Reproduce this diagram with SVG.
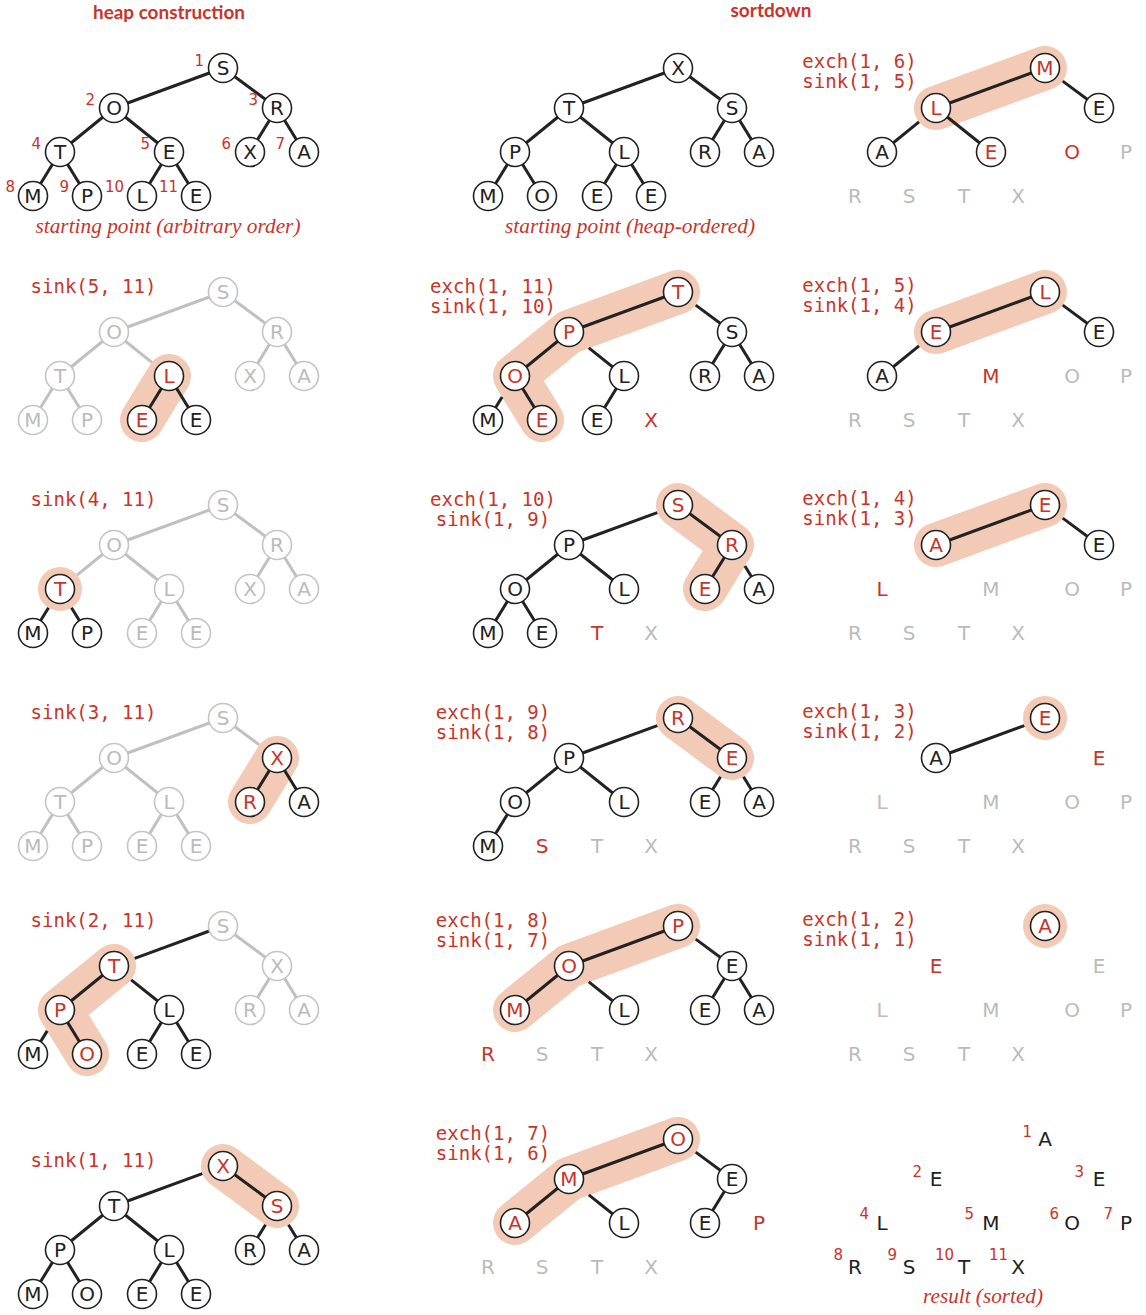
<svg xmlns="http://www.w3.org/2000/svg" width="1146" height="1315" viewBox="0 0 1146 1315">
<style>
.bg{fill:#fff}
.e{stroke:#222;stroke-width:3;fill:none}
.eg{stroke:#c0c0c0;stroke-width:3;fill:none}
.hl{stroke:#f2cab6;stroke-width:44;stroke-linecap:round;stroke-linejoin:round;fill:none}
.hc{fill:#f2cab6}
.nd circle{fill:#fff;stroke:#222;stroke-width:1.6}
.nd.g circle{stroke:#c4c4c4}
.nd text,.lt{font-family:"DejaVu Sans",sans-serif;font-size:20px;text-anchor:middle;fill:#222}
.nd.g text,.lt.g{fill:#bbb}
.nd text.r,.lt.r{fill:#c9342a}
.idx{font-family:"DejaVu Sans",sans-serif;font-size:15px;text-anchor:end;fill:#c9342a}
.lbl{font-family:"DejaVu Sans Mono","Liberation Mono",monospace;font-size:19px;text-anchor:middle;fill:#c9342a}
.cap{font-family:"Liberation Serif",serif;font-style:italic;font-size:20px;text-anchor:middle;fill:#c9342a}
.ttl{font-family:"Lato","DejaVu Sans",sans-serif;font-weight:bold;font-size:18px;text-anchor:middle;fill:#c9342a}
</style>
<rect class="bg" x="0" y="0" width="1146" height="1315"/>
<text class="ttl" x="169" y="19" textLength="152" lengthAdjust="spacingAndGlyphs">heap construction</text>
<text class="ttl" x="771" y="17" textLength="81" lengthAdjust="spacingAndGlyphs">sortdown</text>

<!-- ===== Column 1, row 1 ===== -->
<g id="p11">
<g id="p11-connectors">
<line class="e" x1="223" y1="68" x2="114" y2="108"/><line class="e" x1="223" y1="68" x2="277" y2="108"/>
<line class="e" x1="114" y1="108" x2="60" y2="152"/><line class="e" x1="114" y1="108" x2="169" y2="152"/>
<line class="e" x1="277" y1="108" x2="250" y2="152"/><line class="e" x1="277" y1="108" x2="304" y2="152"/>
<line class="e" x1="60" y1="152" x2="33" y2="196"/><line class="e" x1="60" y1="152" x2="87" y2="196"/>
<line class="e" x1="169" y1="152" x2="142" y2="196"/><line class="e" x1="169" y1="152" x2="196" y2="196"/>
</g>
<g id="p11-n1" class="nd"><circle cx="223" cy="68" r="14.5"/><text x="223" y="75">S</text></g>
<g id="p11-n2" class="nd"><circle cx="114" cy="108" r="14.5"/><text x="114" y="115">O</text></g>
<g id="p11-n3" class="nd"><circle cx="277" cy="108" r="14.5"/><text x="277" y="115">R</text></g>
<g id="p11-n4" class="nd"><circle cx="60" cy="152" r="14.5"/><text x="60" y="159">T</text></g>
<g id="p11-n5" class="nd"><circle cx="169" cy="152" r="14.5"/><text x="169" y="159">E</text></g>
<g id="p11-n6" class="nd"><circle cx="250" cy="152" r="14.5"/><text x="250" y="159">X</text></g>
<g id="p11-n7" class="nd"><circle cx="304" cy="152" r="14.5"/><text x="304" y="159">A</text></g>
<g id="p11-n8" class="nd"><circle cx="33" cy="196" r="14.5"/><text x="33" y="203">M</text></g>
<g id="p11-n9" class="nd"><circle cx="87" cy="196" r="14.5"/><text x="87" y="203">P</text></g>
<g id="p11-n10" class="nd"><circle cx="142" cy="196" r="14.5"/><text x="142" y="203">L</text></g>
<g id="p11-n11" class="nd"><circle cx="196" cy="196" r="14.5"/><text x="196" y="203">E</text></g>
<text class="idx" x="204" y="66">1</text><text class="idx" x="95" y="105">2</text><text class="idx" x="258" y="105">3</text>
<text class="idx" x="41" y="149">4</text><text class="idx" x="150" y="149">5</text><text class="idx" x="231" y="149">6</text><text class="idx" x="285" y="149">7</text>
<text class="idx" x="15" y="192">8</text><text class="idx" x="69" y="192">9</text><text class="idx" x="124" y="192">10</text><text class="idx" x="178" y="192">11</text>
<text class="cap" x="168" y="233" textLength="265" lengthAdjust="spacingAndGlyphs">starting point (arbitrary order)</text>
</g>

<!-- ===== Column 1, row 2: sink(5, 11) ===== -->
<g id="p12" transform="translate(0,224)">
<text class="lbl" x="93.5" y="69">sink(5, 11)</text>
<line class="hl" x1="169" y1="152" x2="142" y2="196"/>
<g id="p12-connectors">
<line class="eg" x1="223" y1="68" x2="114" y2="108"/><line class="eg" x1="223" y1="68" x2="277" y2="108"/>
<line class="eg" x1="114" y1="108" x2="60" y2="152"/><line class="eg" x1="114" y1="108" x2="151.8" y2="138.3"/>
<line class="eg" x1="277" y1="108" x2="250" y2="152"/><line class="eg" x1="277" y1="108" x2="304" y2="152"/>
<line class="eg" x1="60" y1="152" x2="33" y2="196"/><line class="eg" x1="60" y1="152" x2="87" y2="196"/>
<line class="e" x1="169" y1="152" x2="142" y2="196"/><line class="e" x1="169" y1="152" x2="196" y2="196"/>
</g>
<g id="p12-n1" class="nd g"><circle cx="223" cy="68" r="14.5"/><text x="223" y="75">S</text></g>
<g id="p12-n2" class="nd g"><circle cx="114" cy="108" r="14.5"/><text x="114" y="115">O</text></g>
<g id="p12-n3" class="nd g"><circle cx="277" cy="108" r="14.5"/><text x="277" y="115">R</text></g>
<g id="p12-n4" class="nd g"><circle cx="60" cy="152" r="14.5"/><text x="60" y="159">T</text></g>
<g id="p12-n5" class="nd"><circle cx="169" cy="152" r="14.5"/><text class="r" x="169" y="159">L</text></g>
<g id="p12-n6" class="nd g"><circle cx="250" cy="152" r="14.5"/><text x="250" y="159">X</text></g>
<g id="p12-n7" class="nd g"><circle cx="304" cy="152" r="14.5"/><text x="304" y="159">A</text></g>
<g id="p12-n8" class="nd g"><circle cx="33" cy="196" r="14.5"/><text x="33" y="203">M</text></g>
<g id="p12-n9" class="nd g"><circle cx="87" cy="196" r="14.5"/><text x="87" y="203">P</text></g>
<g id="p12-n10" class="nd"><circle cx="142" cy="196" r="14.5"/><text class="r" x="142" y="203">E</text></g>
<g id="p12-n11" class="nd"><circle cx="196" cy="196" r="14.5"/><text x="196" y="203">E</text></g>
</g>

<!-- ===== Column 1, row 3: sink(4, 11) ===== -->
<g id="p13" transform="translate(0,437)">
<text class="lbl" x="93.5" y="69">sink(4, 11)</text>
<circle class="hc" cx="60" cy="152" r="22"/>
<g id="p13-connectors">
<line class="eg" x1="223" y1="68" x2="114" y2="108"/><line class="eg" x1="223" y1="68" x2="277" y2="108"/>
<line class="eg" x1="114" y1="108" x2="77" y2="138.1"/><line class="eg" x1="114" y1="108" x2="169" y2="152"/>
<line class="eg" x1="277" y1="108" x2="250" y2="152"/><line class="eg" x1="277" y1="108" x2="304" y2="152"/>
<line class="e" x1="48.5" y1="170.7" x2="33" y2="196"/><line class="e" x1="71.5" y1="170.7" x2="87" y2="196"/>
<line class="eg" x1="169" y1="152" x2="142" y2="196"/><line class="eg" x1="169" y1="152" x2="196" y2="196"/>
</g>
<g id="p13-n1" class="nd g"><circle cx="223" cy="68" r="14.5"/><text x="223" y="75">S</text></g>
<g id="p13-n2" class="nd g"><circle cx="114" cy="108" r="14.5"/><text x="114" y="115">O</text></g>
<g id="p13-n3" class="nd g"><circle cx="277" cy="108" r="14.5"/><text x="277" y="115">R</text></g>
<g id="p13-n4" class="nd"><circle cx="60" cy="152" r="14.5"/><text class="r" x="60" y="159">T</text></g>
<g id="p13-n5" class="nd g"><circle cx="169" cy="152" r="14.5"/><text x="169" y="159">L</text></g>
<g id="p13-n6" class="nd g"><circle cx="250" cy="152" r="14.5"/><text x="250" y="159">X</text></g>
<g id="p13-n7" class="nd g"><circle cx="304" cy="152" r="14.5"/><text x="304" y="159">A</text></g>
<g id="p13-n8" class="nd"><circle cx="33" cy="196" r="14.5"/><text x="33" y="203">M</text></g>
<g id="p13-n9" class="nd"><circle cx="87" cy="196" r="14.5"/><text x="87" y="203">P</text></g>
<g id="p13-n10" class="nd g"><circle cx="142" cy="196" r="14.5"/><text x="142" y="203">E</text></g>
<g id="p13-n11" class="nd g"><circle cx="196" cy="196" r="14.5"/><text x="196" y="203">E</text></g>
</g>

<!-- ===== Column 1, row 4: sink(3, 11) ===== -->
<g id="p14" transform="translate(0,650)">
<text class="lbl" x="93.5" y="69">sink(3, 11)</text>
<line class="hl" x1="277" y1="108" x2="250" y2="152"/>
<g id="p14-connectors">
<line class="eg" x1="223" y1="68" x2="114" y2="108"/><line class="eg" x1="223" y1="68" x2="259.3" y2="94.9"/>
<line class="eg" x1="114" y1="108" x2="60" y2="152"/><line class="eg" x1="114" y1="108" x2="169" y2="152"/>
<line class="e" x1="277" y1="108" x2="250" y2="152"/><line class="e" x1="277" y1="108" x2="304" y2="152"/>
<line class="eg" x1="60" y1="152" x2="33" y2="196"/><line class="eg" x1="60" y1="152" x2="87" y2="196"/>
<line class="eg" x1="169" y1="152" x2="142" y2="196"/><line class="eg" x1="169" y1="152" x2="196" y2="196"/>
</g>
<g id="p14-n1" class="nd g"><circle cx="223" cy="68" r="14.5"/><text x="223" y="75">S</text></g>
<g id="p14-n2" class="nd g"><circle cx="114" cy="108" r="14.5"/><text x="114" y="115">O</text></g>
<g id="p14-n3" class="nd"><circle cx="277" cy="108" r="14.5"/><text class="r" x="277" y="115">X</text></g>
<g id="p14-n4" class="nd g"><circle cx="60" cy="152" r="14.5"/><text x="60" y="159">T</text></g>
<g id="p14-n5" class="nd g"><circle cx="169" cy="152" r="14.5"/><text x="169" y="159">L</text></g>
<g id="p14-n6" class="nd"><circle cx="250" cy="152" r="14.5"/><text class="r" x="250" y="159">R</text></g>
<g id="p14-n7" class="nd"><circle cx="304" cy="152" r="14.5"/><text x="304" y="159">A</text></g>
<g id="p14-n8" class="nd g"><circle cx="33" cy="196" r="14.5"/><text x="33" y="203">M</text></g>
<g id="p14-n9" class="nd g"><circle cx="87" cy="196" r="14.5"/><text x="87" y="203">P</text></g>
<g id="p14-n10" class="nd g"><circle cx="142" cy="196" r="14.5"/><text x="142" y="203">E</text></g>
<g id="p14-n11" class="nd g"><circle cx="196" cy="196" r="14.5"/><text x="196" y="203">E</text></g>
</g>

<!-- ===== Column 1, row 5: sink(2, 11) ===== -->
<g id="p15" transform="translate(0,858)">
<text class="lbl" x="93.5" y="69">sink(2, 11)</text>
<polyline class="hl" points="114,108 60,152 87,196"/>
<g id="p15-connectors">
<line class="e" x1="223" y1="68" x2="134.7" y2="100.4"/><line class="eg" x1="223" y1="68" x2="277" y2="108"/>
<line class="e" x1="114" y1="108" x2="60" y2="152"/><line class="e" x1="131.2" y1="121.8" x2="169" y2="152"/>
<line class="eg" x1="277" y1="108" x2="250" y2="152"/><line class="eg" x1="277" y1="108" x2="304" y2="152"/>
<line class="e" x1="47.2" y1="172.9" x2="33" y2="196"/><line class="e" x1="60" y1="152" x2="87" y2="196"/>
<line class="e" x1="169" y1="152" x2="142" y2="196"/><line class="e" x1="169" y1="152" x2="196" y2="196"/>
</g>
<g id="p15-n1" class="nd g"><circle cx="223" cy="68" r="14.5"/><text x="223" y="75">S</text></g>
<g id="p15-n2" class="nd"><circle cx="114" cy="108" r="14.5"/><text class="r" x="114" y="115">T</text></g>
<g id="p15-n3" class="nd g"><circle cx="277" cy="108" r="14.5"/><text x="277" y="115">X</text></g>
<g id="p15-n4" class="nd"><circle cx="60" cy="152" r="14.5"/><text class="r" x="60" y="159">P</text></g>
<g id="p15-n5" class="nd"><circle cx="169" cy="152" r="14.5"/><text x="169" y="159">L</text></g>
<g id="p15-n6" class="nd g"><circle cx="250" cy="152" r="14.5"/><text x="250" y="159">R</text></g>
<g id="p15-n7" class="nd g"><circle cx="304" cy="152" r="14.5"/><text x="304" y="159">A</text></g>
<g id="p15-n8" class="nd"><circle cx="33" cy="196" r="14.5"/><text x="33" y="203">M</text></g>
<g id="p15-n9" class="nd"><circle cx="87" cy="196" r="14.5"/><text class="r" x="87" y="203">O</text></g>
<g id="p15-n10" class="nd"><circle cx="142" cy="196" r="14.5"/><text x="142" y="203">E</text></g>
<g id="p15-n11" class="nd"><circle cx="196" cy="196" r="14.5"/><text x="196" y="203">E</text></g>
</g>

<!-- ===== Column 1, row 6: sink(1, 11) ===== -->
<g id="p16" transform="translate(0,1098)">
<text class="lbl" x="93.5" y="69">sink(1, 11)</text>
<line class="hl" x1="223" y1="68" x2="277" y2="108"/>
<g id="p16-connectors">
<line class="e" x1="202.3" y1="75.6" x2="114" y2="108"/><line class="e" x1="223" y1="68" x2="277" y2="108"/>
<line class="e" x1="114" y1="108" x2="60" y2="152"/><line class="e" x1="114" y1="108" x2="169" y2="152"/>
<line class="e" x1="265.5" y1="126.7" x2="250" y2="152"/><line class="e" x1="288.5" y1="126.7" x2="304" y2="152"/>
<line class="e" x1="60" y1="152" x2="33" y2="196"/><line class="e" x1="60" y1="152" x2="87" y2="196"/>
<line class="e" x1="169" y1="152" x2="142" y2="196"/><line class="e" x1="169" y1="152" x2="196" y2="196"/>
</g>
<g id="p16-n1" class="nd"><circle cx="223" cy="68" r="14.5"/><text class="r" x="223" y="75">X</text></g>
<g id="p16-n2" class="nd"><circle cx="114" cy="108" r="14.5"/><text x="114" y="115">T</text></g>
<g id="p16-n3" class="nd"><circle cx="277" cy="108" r="14.5"/><text class="r" x="277" y="115">S</text></g>
<g id="p16-n4" class="nd"><circle cx="60" cy="152" r="14.5"/><text x="60" y="159">P</text></g>
<g id="p16-n5" class="nd"><circle cx="169" cy="152" r="14.5"/><text x="169" y="159">L</text></g>
<g id="p16-n6" class="nd"><circle cx="250" cy="152" r="14.5"/><text x="250" y="159">R</text></g>
<g id="p16-n7" class="nd"><circle cx="304" cy="152" r="14.5"/><text x="304" y="159">A</text></g>
<g id="p16-n8" class="nd"><circle cx="33" cy="196" r="14.5"/><text x="33" y="203">M</text></g>
<g id="p16-n9" class="nd"><circle cx="87" cy="196" r="14.5"/><text x="87" y="203">O</text></g>
<g id="p16-n10" class="nd"><circle cx="142" cy="196" r="14.5"/><text x="142" y="203">E</text></g>
<g id="p16-n11" class="nd"><circle cx="196" cy="196" r="14.5"/><text x="196" y="203">E</text></g>
</g>

<!-- ===== Column 2, row 1 ===== -->
<g id="p21" transform="translate(455,0)">
<g id="p21-connectors">
<line class="e" x1="223" y1="68" x2="114" y2="108"/><line class="e" x1="223" y1="68" x2="277" y2="108"/>
<line class="e" x1="114" y1="108" x2="60" y2="152"/><line class="e" x1="114" y1="108" x2="169" y2="152"/>
<line class="e" x1="277" y1="108" x2="250" y2="152"/><line class="e" x1="277" y1="108" x2="304" y2="152"/>
<line class="e" x1="60" y1="152" x2="33" y2="196"/><line class="e" x1="60" y1="152" x2="87" y2="196"/>
<line class="e" x1="169" y1="152" x2="142" y2="196"/><line class="e" x1="169" y1="152" x2="196" y2="196"/>
</g>
<g id="p21-n1" class="nd"><circle cx="223" cy="68" r="14.5"/><text x="223" y="75">X</text></g>
<g id="p21-n2" class="nd"><circle cx="114" cy="108" r="14.5"/><text x="114" y="115">T</text></g>
<g id="p21-n3" class="nd"><circle cx="277" cy="108" r="14.5"/><text x="277" y="115">S</text></g>
<g id="p21-n4" class="nd"><circle cx="60" cy="152" r="14.5"/><text x="60" y="159">P</text></g>
<g id="p21-n5" class="nd"><circle cx="169" cy="152" r="14.5"/><text x="169" y="159">L</text></g>
<g id="p21-n6" class="nd"><circle cx="250" cy="152" r="14.5"/><text x="250" y="159">R</text></g>
<g id="p21-n7" class="nd"><circle cx="304" cy="152" r="14.5"/><text x="304" y="159">A</text></g>
<g id="p21-n8" class="nd"><circle cx="33" cy="196" r="14.5"/><text x="33" y="203">M</text></g>
<g id="p21-n9" class="nd"><circle cx="87" cy="196" r="14.5"/><text x="87" y="203">O</text></g>
<g id="p21-n10" class="nd"><circle cx="142" cy="196" r="14.5"/><text x="142" y="203">E</text></g>
<g id="p21-n11" class="nd"><circle cx="196" cy="196" r="14.5"/><text x="196" y="203">E</text></g>
<text class="cap" x="175" y="233" textLength="250" lengthAdjust="spacingAndGlyphs">starting point (heap-ordered)</text>
</g>

<!-- ===== Column 2, row 2 ===== -->
<g id="p22" transform="translate(455,224)">
<text class="lbl" x="38" y="69">exch(1, 11)</text>
<text class="lbl" x="38" y="89">sink(1, 10)</text>
<polyline class="hl" points="223,68 114,108 60,152 87,196"/>
<g id="p22-connectors">
<line class="e" x1="223" y1="68" x2="114" y2="108"/><line class="e" x1="240.7" y1="81.1" x2="277" y2="108"/>
<line class="e" x1="114" y1="108" x2="60" y2="152"/><line class="e" x1="133.8" y1="123.9" x2="169" y2="152"/>
<line class="e" x1="277" y1="108" x2="250" y2="152"/><line class="e" x1="277" y1="108" x2="304" y2="152"/>
<line class="e" x1="47.1" y1="173" x2="33" y2="196"/><line class="e" x1="60" y1="152" x2="87" y2="196"/>
<line class="e" x1="169" y1="152" x2="142" y2="196"/>
</g>
<g id="p22-n1" class="nd"><circle cx="223" cy="68" r="14.5"/><text class="r" x="223" y="75">T</text></g>
<g id="p22-n2" class="nd"><circle cx="114" cy="108" r="14.5"/><text class="r" x="114" y="115">P</text></g>
<g id="p22-n3" class="nd"><circle cx="277" cy="108" r="14.5"/><text x="277" y="115">S</text></g>
<g id="p22-n4" class="nd"><circle cx="60" cy="152" r="14.5"/><text class="r" x="60" y="159">O</text></g>
<g id="p22-n5" class="nd"><circle cx="169" cy="152" r="14.5"/><text x="169" y="159">L</text></g>
<g id="p22-n6" class="nd"><circle cx="250" cy="152" r="14.5"/><text x="250" y="159">R</text></g>
<g id="p22-n7" class="nd"><circle cx="304" cy="152" r="14.5"/><text x="304" y="159">A</text></g>
<g id="p22-n8" class="nd"><circle cx="33" cy="196" r="14.5"/><text x="33" y="203">M</text></g>
<g id="p22-n9" class="nd"><circle cx="87" cy="196" r="14.5"/><text class="r" x="87" y="203">E</text></g>
<g id="p22-n10" class="nd"><circle cx="142" cy="196" r="14.5"/><text x="142" y="203">E</text></g>
<text class="lt r" x="196" y="203">X</text>
</g>

<!-- ===== Column 2, row 3 ===== -->
<g id="p23" transform="translate(455,437)">
<text class="lbl" x="38" y="69">exch(1, 10)</text>
<text class="lbl" x="38" y="89">sink(1, 9)</text>
<polyline class="hl" points="223,68 277,108 250,152"/>
<g id="p23-connectors">
<line class="e" x1="202.3" y1="75.6" x2="114" y2="108"/><line class="e" x1="223" y1="68" x2="277" y2="108"/>
<line class="e" x1="114" y1="108" x2="60" y2="152"/><line class="e" x1="114" y1="108" x2="169" y2="152"/>
<line class="e" x1="277" y1="108" x2="250" y2="152"/><line class="e" x1="289.9" y1="129" x2="304" y2="152"/>
<line class="e" x1="60" y1="152" x2="33" y2="196"/><line class="e" x1="60" y1="152" x2="87" y2="196"/>
</g>
<g id="p23-n1" class="nd"><circle cx="223" cy="68" r="14.5"/><text class="r" x="223" y="75">S</text></g>
<g id="p23-n2" class="nd"><circle cx="114" cy="108" r="14.5"/><text x="114" y="115">P</text></g>
<g id="p23-n3" class="nd"><circle cx="277" cy="108" r="14.5"/><text class="r" x="277" y="115">R</text></g>
<g id="p23-n4" class="nd"><circle cx="60" cy="152" r="14.5"/><text x="60" y="159">O</text></g>
<g id="p23-n5" class="nd"><circle cx="169" cy="152" r="14.5"/><text x="169" y="159">L</text></g>
<g id="p23-n6" class="nd"><circle cx="250" cy="152" r="14.5"/><text class="r" x="250" y="159">E</text></g>
<g id="p23-n7" class="nd"><circle cx="304" cy="152" r="14.5"/><text x="304" y="159">A</text></g>
<g id="p23-n8" class="nd"><circle cx="33" cy="196" r="14.5"/><text x="33" y="203">M</text></g>
<g id="p23-n9" class="nd"><circle cx="87" cy="196" r="14.5"/><text x="87" y="203">E</text></g>
<text class="lt r" x="142" y="203">T</text>
<text class="lt g" x="196" y="203">X</text>
</g>

<!-- ===== Column 2, row 4 ===== -->
<g id="p24" transform="translate(455,650)">
<text class="lbl" x="38" y="69">exch(1, 9)</text>
<text class="lbl" x="38" y="89">sink(1, 8)</text>
<line class="hl" x1="223" y1="68" x2="277" y2="108"/>
<g id="p24-connectors">
<line class="e" x1="202.3" y1="75.6" x2="114" y2="108"/><line class="e" x1="223" y1="68" x2="277" y2="108"/>
<line class="e" x1="114" y1="108" x2="60" y2="152"/><line class="e" x1="114" y1="108" x2="169" y2="152"/>
<line class="e" x1="265.5" y1="126.7" x2="250" y2="152"/><line class="e" x1="288.5" y1="126.7" x2="304" y2="152"/>
<line class="e" x1="60" y1="152" x2="33" y2="196"/>
</g>
<g id="p24-n1" class="nd"><circle cx="223" cy="68" r="14.5"/><text class="r" x="223" y="75">R</text></g>
<g id="p24-n2" class="nd"><circle cx="114" cy="108" r="14.5"/><text x="114" y="115">P</text></g>
<g id="p24-n3" class="nd"><circle cx="277" cy="108" r="14.5"/><text class="r" x="277" y="115">E</text></g>
<g id="p24-n4" class="nd"><circle cx="60" cy="152" r="14.5"/><text x="60" y="159">O</text></g>
<g id="p24-n5" class="nd"><circle cx="169" cy="152" r="14.5"/><text x="169" y="159">L</text></g>
<g id="p24-n6" class="nd"><circle cx="250" cy="152" r="14.5"/><text x="250" y="159">E</text></g>
<g id="p24-n7" class="nd"><circle cx="304" cy="152" r="14.5"/><text x="304" y="159">A</text></g>
<g id="p24-n8" class="nd"><circle cx="33" cy="196" r="14.5"/><text x="33" y="203">M</text></g>
<text class="lt r" x="87" y="203">S</text>
<text class="lt g" x="142" y="203">T</text>
<text class="lt g" x="196" y="203">X</text>
</g>

<!-- ===== Column 2, row 5 ===== -->
<g id="p25" transform="translate(455,858)">
<text class="lbl" x="38" y="69">exch(1, 8)</text>
<text class="lbl" x="38" y="89">sink(1, 7)</text>
<polyline class="hl" points="223,68 114,108 60,152"/>
<g id="p25-connectors">
<line class="e" x1="223" y1="68" x2="114" y2="108"/><line class="e" x1="240.7" y1="81.1" x2="277" y2="108"/>
<line class="e" x1="114" y1="108" x2="60" y2="152"/><line class="e" x1="133.8" y1="123.9" x2="169" y2="152"/>
<line class="e" x1="277" y1="108" x2="250" y2="152"/><line class="e" x1="277" y1="108" x2="304" y2="152"/>
</g>
<g id="p25-n1" class="nd"><circle cx="223" cy="68" r="14.5"/><text class="r" x="223" y="75">P</text></g>
<g id="p25-n2" class="nd"><circle cx="114" cy="108" r="14.5"/><text class="r" x="114" y="115">O</text></g>
<g id="p25-n3" class="nd"><circle cx="277" cy="108" r="14.5"/><text x="277" y="115">E</text></g>
<g id="p25-n4" class="nd"><circle cx="60" cy="152" r="14.5"/><text class="r" x="60" y="159">M</text></g>
<g id="p25-n5" class="nd"><circle cx="169" cy="152" r="14.5"/><text x="169" y="159">L</text></g>
<g id="p25-n6" class="nd"><circle cx="250" cy="152" r="14.5"/><text x="250" y="159">E</text></g>
<g id="p25-n7" class="nd"><circle cx="304" cy="152" r="14.5"/><text x="304" y="159">A</text></g>
<text class="lt r" x="33" y="203">R</text>
<text class="lt g" x="87" y="203">S</text>
<text class="lt g" x="142" y="203">T</text>
<text class="lt g" x="196" y="203">X</text>
</g>

<!-- ===== Column 2, row 6 ===== -->
<g id="p26" transform="translate(455,1071)">
<text class="lbl" x="38" y="69">exch(1, 7)</text>
<text class="lbl" x="38" y="89">sink(1, 6)</text>
<polyline class="hl" points="223,68 114,108 60,152"/>
<g id="p26-connectors">
<line class="e" x1="223" y1="68" x2="114" y2="108"/><line class="e" x1="240.7" y1="81.1" x2="277" y2="108"/>
<line class="e" x1="114" y1="108" x2="60" y2="152"/><line class="e" x1="133.8" y1="123.9" x2="169" y2="152"/>
<line class="e" x1="277" y1="108" x2="250" y2="152"/>
</g>
<g id="p26-n1" class="nd"><circle cx="223" cy="68" r="14.5"/><text class="r" x="223" y="75">O</text></g>
<g id="p26-n2" class="nd"><circle cx="114" cy="108" r="14.5"/><text class="r" x="114" y="115">M</text></g>
<g id="p26-n3" class="nd"><circle cx="277" cy="108" r="14.5"/><text x="277" y="115">E</text></g>
<g id="p26-n4" class="nd"><circle cx="60" cy="152" r="14.5"/><text class="r" x="60" y="159">A</text></g>
<g id="p26-n5" class="nd"><circle cx="169" cy="152" r="14.5"/><text x="169" y="159">L</text></g>
<g id="p26-n6" class="nd"><circle cx="250" cy="152" r="14.5"/><text x="250" y="159">E</text></g>
<text class="lt r" x="304" y="159">P</text>
<text class="lt g" x="33" y="203">R</text>
<text class="lt g" x="87" y="203">S</text>
<text class="lt g" x="142" y="203">T</text>
<text class="lt g" x="196" y="203">X</text>
</g>

<!-- ===== Column 3, row 1 ===== -->
<g id="p31" transform="translate(822,0)">
<text class="lbl" x="37.5" y="68">exch(1, 6)</text>
<text class="lbl" x="37.5" y="88">sink(1, 5)</text>
<line class="hl" x1="223" y1="68" x2="114" y2="108"/>
<g id="p31-connectors">
<line class="e" x1="223" y1="68" x2="114" y2="108"/><line class="e" x1="240.7" y1="81.1" x2="277" y2="108"/>
<line class="e" x1="97" y1="121.9" x2="60" y2="152"/><line class="e" x1="114" y1="108" x2="169" y2="152"/>
</g>
<g id="p31-n1" class="nd"><circle cx="223" cy="68" r="14.5"/><text class="r" x="223" y="75">M</text></g>
<g id="p31-n2" class="nd"><circle cx="114" cy="108" r="14.5"/><text class="r" x="114" y="115">L</text></g>
<g id="p31-n3" class="nd"><circle cx="277" cy="108" r="14.5"/><text x="277" y="115">E</text></g>
<g id="p31-n4" class="nd"><circle cx="60" cy="152" r="14.5"/><text x="60" y="159">A</text></g>
<g id="p31-n5" class="nd"><circle cx="169" cy="152" r="14.5"/><text class="r" x="169" y="159">E</text></g>
<text class="lt r" x="250" y="159">O</text>
<text class="lt g" x="304" y="159">P</text>
<text class="lt g" x="33" y="203">R</text>
<text class="lt g" x="87" y="203">S</text>
<text class="lt g" x="142" y="203">T</text>
<text class="lt g" x="196" y="203">X</text>
</g>

<!-- ===== Column 3, row 2 ===== -->
<g id="p32" transform="translate(822,224)">
<text class="lbl" x="37.5" y="68">exch(1, 5)</text>
<text class="lbl" x="37.5" y="88">sink(1, 4)</text>
<line class="hl" x1="223" y1="68" x2="114" y2="108"/>
<g id="p32-connectors">
<line class="e" x1="223" y1="68" x2="114" y2="108"/><line class="e" x1="240.7" y1="81.1" x2="277" y2="108"/>
<line class="e" x1="97" y1="121.9" x2="60" y2="152"/>
</g>
<g id="p32-n1" class="nd"><circle cx="223" cy="68" r="14.5"/><text class="r" x="223" y="75">L</text></g>
<g id="p32-n2" class="nd"><circle cx="114" cy="108" r="14.5"/><text class="r" x="114" y="115">E</text></g>
<g id="p32-n3" class="nd"><circle cx="277" cy="108" r="14.5"/><text x="277" y="115">E</text></g>
<g id="p32-n4" class="nd"><circle cx="60" cy="152" r="14.5"/><text x="60" y="159">A</text></g>
<text class="lt r" x="169" y="159">M</text>
<text class="lt g" x="250" y="159">O</text>
<text class="lt g" x="304" y="159">P</text>
<text class="lt g" x="33" y="203">R</text>
<text class="lt g" x="87" y="203">S</text>
<text class="lt g" x="142" y="203">T</text>
<text class="lt g" x="196" y="203">X</text>
</g>

<!-- ===== Column 3, row 3 ===== -->
<g id="p33" transform="translate(822,437)">
<text class="lbl" x="37.5" y="68">exch(1, 4)</text>
<text class="lbl" x="37.5" y="88">sink(1, 3)</text>
<line class="hl" x1="223" y1="68" x2="114" y2="108"/>
<g id="p33-connectors">
<line class="e" x1="223" y1="68" x2="114" y2="108"/><line class="e" x1="240.7" y1="81.1" x2="277" y2="108"/>
</g>
<g id="p33-n1" class="nd"><circle cx="223" cy="68" r="14.5"/><text class="r" x="223" y="75">E</text></g>
<g id="p33-n2" class="nd"><circle cx="114" cy="108" r="14.5"/><text class="r" x="114" y="115">A</text></g>
<g id="p33-n3" class="nd"><circle cx="277" cy="108" r="14.5"/><text x="277" y="115">E</text></g>
<text class="lt r" x="60" y="159">L</text>
<text class="lt g" x="169" y="159">M</text>
<text class="lt g" x="250" y="159">O</text>
<text class="lt g" x="304" y="159">P</text>
<text class="lt g" x="33" y="203">R</text>
<text class="lt g" x="87" y="203">S</text>
<text class="lt g" x="142" y="203">T</text>
<text class="lt g" x="196" y="203">X</text>
</g>

<!-- ===== Column 3, row 4 ===== -->
<g id="p34" transform="translate(822,650)">
<text class="lbl" x="37.5" y="68">exch(1, 3)</text>
<text class="lbl" x="37.5" y="88">sink(1, 2)</text>
<circle class="hc" cx="223" cy="68" r="22"/>
<g id="p34-connectors">
<line class="e" x1="202.3" y1="75.6" x2="114" y2="108"/>
</g>
<g id="p34-n1" class="nd"><circle cx="223" cy="68" r="14.5"/><text class="r" x="223" y="75">E</text></g>
<g id="p34-n2" class="nd"><circle cx="114" cy="108" r="14.5"/><text x="114" y="115">A</text></g>
<text class="lt r" x="277" y="115">E</text>
<text class="lt g" x="60" y="159">L</text>
<text class="lt g" x="169" y="159">M</text>
<text class="lt g" x="250" y="159">O</text>
<text class="lt g" x="304" y="159">P</text>
<text class="lt g" x="33" y="203">R</text>
<text class="lt g" x="87" y="203">S</text>
<text class="lt g" x="142" y="203">T</text>
<text class="lt g" x="196" y="203">X</text>
</g>

<!-- ===== Column 3, row 5 ===== -->
<g id="p35" transform="translate(822,858)">
<text class="lbl" x="37.5" y="68">exch(1, 2)</text>
<text class="lbl" x="37.5" y="88">sink(1, 1)</text>
<circle class="hc" cx="223" cy="68" r="22"/>
<g id="p35-n1" class="nd"><circle cx="223" cy="68" r="14.5"/><text class="r" x="223" y="75">A</text></g>
<text class="lt r" x="114" y="115">E</text>
<text class="lt g" x="277" y="115">E</text>
<text class="lt g" x="60" y="159">L</text>
<text class="lt g" x="169" y="159">M</text>
<text class="lt g" x="250" y="159">O</text>
<text class="lt g" x="304" y="159">P</text>
<text class="lt g" x="33" y="203">R</text>
<text class="lt g" x="87" y="203">S</text>
<text class="lt g" x="142" y="203">T</text>
<text class="lt g" x="196" y="203">X</text>
</g>

<!-- ===== Column 3, row 6: result ===== -->
<g id="p36" transform="translate(822,1071)">
<text class="lt" x="223" y="75">A</text>
<text class="lt" x="114" y="115">E</text>
<text class="lt" x="277" y="115">E</text>
<text class="lt" x="60" y="159">L</text>
<text class="lt" x="169" y="159">M</text>
<text class="lt" x="250" y="159">O</text>
<text class="lt" x="304" y="159">P</text>
<text class="lt" x="33" y="203">R</text>
<text class="lt" x="87" y="203">S</text>
<text class="lt" x="142" y="203">T</text>
<text class="lt" x="196" y="203">X</text>
<text class="idx" x="210" y="66">1</text>
<text class="idx" x="100" y="106">2</text><text class="idx" x="262" y="106">3</text>
<text class="idx" x="47" y="148">4</text><text class="idx" x="152" y="148">5</text><text class="idx" x="237" y="148">6</text><text class="idx" x="291" y="148">7</text>
<text class="idx" x="21" y="189">8</text><text class="idx" x="75" y="189">9</text><text class="idx" x="132" y="189">10</text><text class="idx" x="186" y="189">11</text>
<text class="cap" x="161" y="232" textLength="120" lengthAdjust="spacingAndGlyphs">result (sorted)</text>
</g>
</svg>
